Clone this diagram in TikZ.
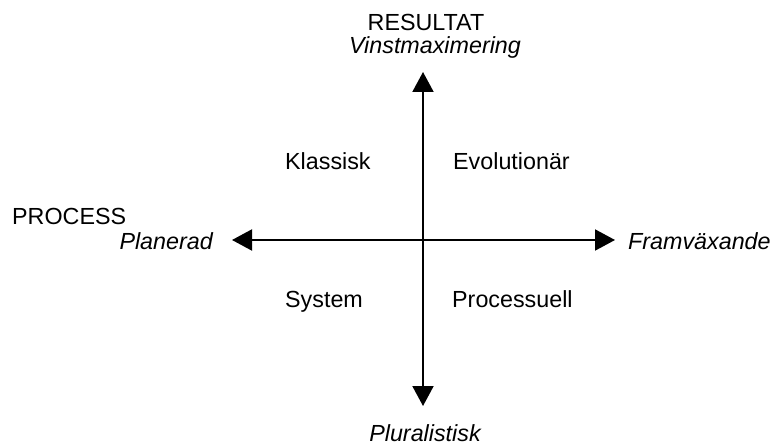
\documentclass[tikz,border=0pt]{standalone}
\usepackage{fontspec}
\setmainfont{Liberation Sans}
\usetikzlibrary{arrows.meta}
\begin{document}
\begin{tikzpicture}[x=1pt,y=-1pt,
  lbl/.style={inner sep=0pt,font=\fontsize{23.3}{27}\selectfont},
  tip/.tip={Triangle[length=20pt,width=21pt]},
  axis/.style={line width=2pt,tip-tip}]
\useasboundingbox (0,0) rectangle (774,446);
% axis end points
\coordinate (top) at (423,72);
\coordinate (bottom) at (423,406);
\coordinate (left) at (232,240);
\coordinate (right) at (615,240);
\draw[axis] (bottom) -- (top);
\draw[axis] (left) -- (right);
% axis labels
\node[lbl,anchor=base] (res) at (426,31) {RESULTAT};
\node[lbl,anchor=base] (vinst) at (435,54) {\itshape Vinstmaximering};
\node[lbl,anchor=base west] (proc) at (12,225) {PROCESS};
\node[lbl,anchor=base east] (plan) at (213,250) {\itshape Planerad};
\node[lbl,anchor=base west] (fram) at (628,250) {\itshape Framväxande};
\node[lbl,anchor=base] (plur) at (425,441) {\itshape Pluralistisk};
% quadrant labels
\node[lbl,anchor=base west] (klass) at (285,170) {Klassisk};
\node[lbl,anchor=base west] (evol) at (453,170) {Evolutionär};
\node[lbl,anchor=base west] (sys) at (285,308) {System};
\node[lbl,anchor=base west] (procl) at (452,308) {Processuell};
\end{tikzpicture}
\end{document}
